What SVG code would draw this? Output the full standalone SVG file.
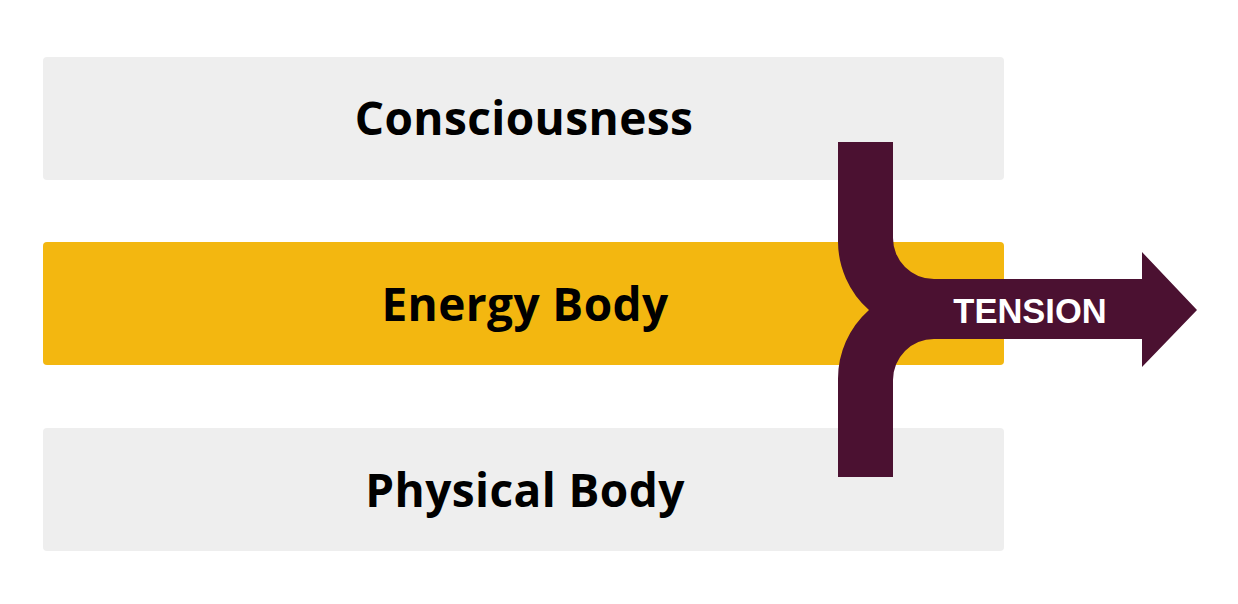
<svg xmlns="http://www.w3.org/2000/svg" width="1238" height="604" viewBox="0 0 1238 604">
<style>
.box{fill:#eeeeee}
.gold{fill:#f3b710}
.lbl{font-family:"Open Sans","Noto Sans",sans-serif;font-weight:700;font-size:46px;letter-spacing:0.4px;fill:#000;text-anchor:middle}
.arrow{fill:#4b1131}
.tension{font-family:"Liberation Sans",Arial,sans-serif;font-weight:700;font-size:34.5px;fill:#fff;text-anchor:middle}
</style>
<rect width="1238" height="604" fill="#fff"/>
<g id="consciousness">
<rect class="box" x="43" y="57" width="961" height="123" rx="4"/>
<text class="lbl" x="524" y="135">Consciousness</text>
</g>
<g id="energy-body">
<rect class="gold" x="43" y="242" width="961" height="123" rx="4"/>
<text class="lbl" x="525" y="321">Energy Body</text>
</g>
<g id="physical-body">
<rect class="box" x="43" y="428" width="961" height="123" rx="4"/>
<text class="lbl" x="525" y="507">Physical Body</text>
</g>
<g id="connectors">
<path class="arrow" d="M838 142 H893 V238 A41 41 0 0 0 934 279 H1142 V252 L1197 310 L1142 367 V339 H934 A41 41 0 0 0 893 380 V477 H838 V380 A92 92 0 0 1 869 310 A92 92 0 0 1 838 240 Z"/>
<text class="tension" x="1030" y="323">TENSION</text>
</g>
</svg>
